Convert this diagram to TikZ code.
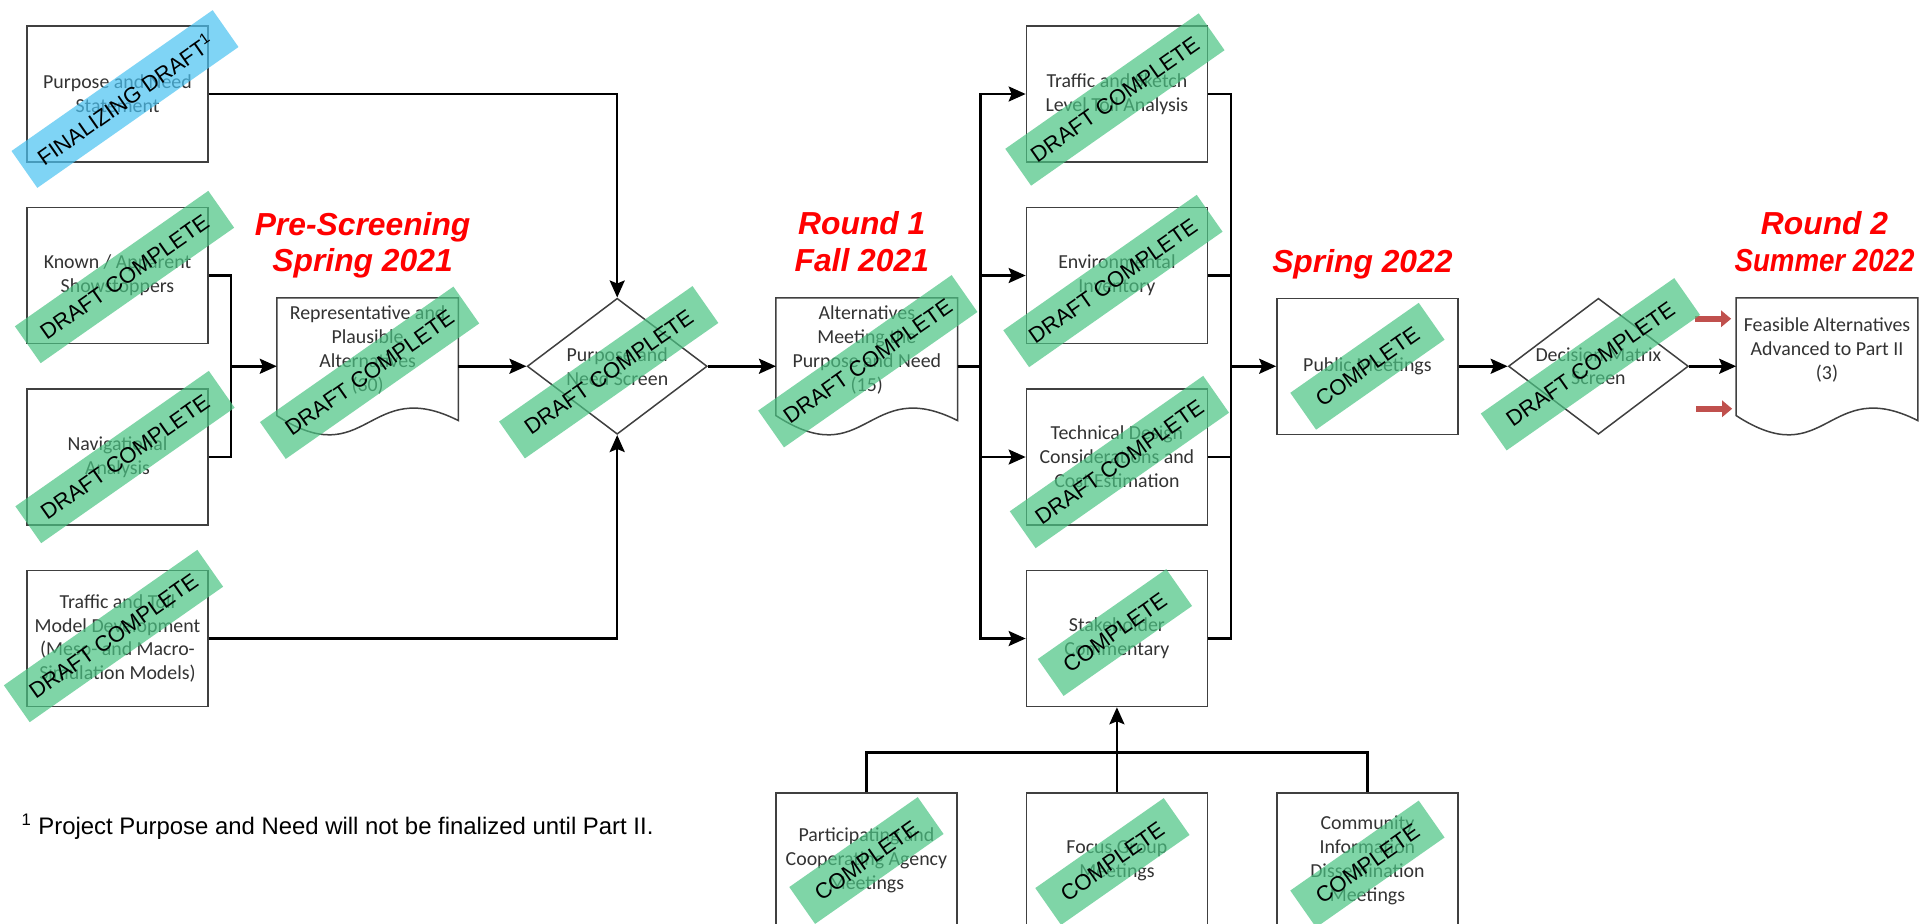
\documentclass[tikz,border=0pt]{standalone}
\usepackage{fontspec}
\usepackage{xcolor}
\usepackage{tikz}
\usetikzlibrary{shapes.geometric, arrows.meta, positioning, calc}

\setmainfont{Carlito}
\newfontfamily\arialfont{Liberation Sans}

\definecolor{stampgreen}{RGB}{74,196,131}
\definecolor{stampblue}{RGB}{74,194,241}
\definecolor{pointerred}{RGB}{192,80,77}

% wavy document outline round a (borderless) node
\newcommand{\docoutline}[1]{%
  \draw[docline] (#1.north west) -- (#1.north east) -- ($(#1.south east)+(0,0.28)$)
    .. controls ($(#1.south)+(0,1.2)$) and ($(#1.south)+(0,-0.8)$) .. ($(#1.south west)+(0,0.38)$) -- cycle;}

\begin{document}
\begin{tikzpicture}[
  node distance=0.88cm and 1.36cm,
  boxfont/.style={font=\fontsize{11.3}{13.6}\selectfont, text=black!80},
  stepbox/.style={rectangle, draw=black!75, line width=0.03cm, minimum width=3.62cm, minimum height=2.72cm, text centered, align=center, boxfont},
  docbox/.style={rectangle, minimum width=3.62cm, minimum height=2.72cm, text centered, align=center, boxfont},
  screen/.style={diamond, aspect=1.32, draw=black!75, line width=0.03cm, minimum width=3.6cm, minimum height=2.72cm, inner sep=-0.1cm, align=center, boxfont},
  docline/.style={draw=black!75, line width=0.03cm},
  heading/.style={font=\arialfont\bfseries\itshape\fontsize{18.1}{21}\selectfont, text=red, align=center, inner sep=0pt, xshift=-0.1cm},
  stamp/.style={rectangle, fill=stampgreen, fill opacity=0.7, text opacity=1, rotate=35, minimum height=0.9cm, inner xsep=0.36cm, font=\arialfont\fontsize{12.5}{14}\selectfont},
  line/.style={line width=0.05cm},
  arrow/.style={line width=0.05cm, -{Stealth[length=0.34cm, width=0.3cm, inset=0.06cm]}},
  pointer/.style={line width=0.13cm, draw=pointerred, -{Triangle[length=0.2cm, width=0.32cm]}}
]
\path[use as bounding box, fill=white] (-2.35,1.88) rectangle (36.05,-16.58);

% left column
\node (pns) [stepbox] {Purpose and Need\\Statement};
\node (known) [stepbox, below=of pns] {Known / Apparent\\Showstoppers};
\node (nav) [stepbox, below=of known] {Navigational\\Analysis};
\node (tdm) [stepbox, below=of nav] {Traffic and Toll\\Model Development\\(Meso- and Macro-\\Simulation Models)};
\coordinate (join) at ($(known.east)!0.5!(nav.east)+(0.44,0)$);

% screening chain
\node (rep) [docbox, right=0.92cm of join] {Representative and\\Plausible\\Alternatives\\(30)\\[0.22cm]};
\node (pnscreen) [screen, right=of rep] {Purpose and\\Need Screen};
\node (alts) [docbox, right=of pnscreen] {Alternatives\\Meeting the\\Purpose and Need\\(15)\\[0.22cm]};
\coordinate (bus1) at ($(alts.east)+(0.46,0)$);

% round 1 column
\node (env) [stepbox, anchor=west] at ($(alts.east |- known.east)+(1.36,0)$) {Environmental\\Inventory};
\node (traffic) [stepbox, above=of env] {Traffic and Sketch\\Level Toll Analysis};
\node (tech) [stepbox, below=of env] {Technical Design\\Considerations and\\Cost Estimation};
\node (stake) [stepbox, below=of tech] {Stakeholder\\Commentary};
\node (focus) [stepbox, below=1.7cm of stake, minimum height=2.7cm] {Focus Group\\Meetings};
\node (part) [stepbox, left=of focus, minimum height=2.7cm] {Participating and\\Cooperating Agency\\Meetings};
\node (community) [stepbox, right=of focus, minimum height=2.7cm] {Community\\Information\\Dissemination\\Meetings};
\coordinate (bus2) at ($(env.east)!0.5!(tech.east)+(0.46,0)$);
\coordinate (fan) at ($(focus.north)!0.47!(stake.south)$);

% round 2
\node (public) [stepbox, right=0.9cm of bus2] {Public Meetings};
\node (dms) [screen, right=0.98cm of public] {Decision Matrix\\Screen};
\node (feasible) [docbox, right=0.94cm of dms] {Feasible Alternatives\\Advanced to Part II\\(3)\\[0.22cm]};

\docoutline{rep}
\docoutline{alts}
\docoutline{feasible}

% phase headings
\node (prescreen) [heading, above=0.38cm of rep] {Pre-Screening\\Spring 2021};
\node (round1) [heading, above=0.52cm of alts] {Round 1\\Fall 2021};
\node (spring22) [heading, above=0.37cm of public] {Spring 2022};
\node (round2) [heading, above=0.51cm of feasible, xshift=0.05cm] {Round 2\\\scalebox{0.87}[1]{Summer 2022}};

\node (note) [below=2.13cm of tdm.south west, anchor=north west, xshift=-0.1cm, inner sep=0pt, font=\arialfont\fontsize{13.6}{16}\selectfont] {\textsuperscript{1} Project Purpose and Need will not be finalized until Part II.};

% connectors
\draw [arrow] (pns.east) -| (pnscreen.north);
\draw [line] (known.east) -| (join) |- (nav.east);
\draw [arrow] (join) -- (rep.west);
\draw [arrow] (tdm.east) -| (pnscreen.south);
\draw [arrow] (rep) -- (pnscreen);
\draw [arrow] (pnscreen) -- (alts);
\draw [line] (alts.east) -- (bus1);
\draw [arrow] (bus1) |- (traffic.west);
\draw [arrow] (bus1) |- (env.west);
\draw [arrow] (bus1) |- (tech.west);
\draw [arrow] (bus1) |- (stake.west);
\draw [line] (traffic.east) -| (bus2);
\draw [line] (stake.east) -| (bus2);
\draw [line] (env.east) -- (env.east -| bus2);
\draw [line] (tech.east) -- (tech.east -| bus2);
\draw [arrow] (bus2) -- (public);
\draw [arrow] (public) -- (dms);
\draw [arrow] (dms) -- (feasible);
\draw [line] (part.north) |- (fan) -| (community.north);
\draw [arrow] (focus.north) -- (stake.south);
\draw [pointer] ($(feasible.west)+(-0.82,0.95)$) -- ($(feasible.west)+(-0.1,0.95)$);
\draw [pointer] ($(feasible.west)+(-0.8,-0.85)$) -- ($(feasible.west)+(-0.08,-0.85)$);

% status stamps
\node (pnsstamp) [stamp, fill=stampblue] at ($(pns)+(0.15,-0.1)$) {FINALIZING DRAFT\textsuperscript{1}};
\node (knownstamp) [stamp] at ($(known)+(0.14,-0.03)$) {DRAFT COMPLETE};
\node (navstamp) [stamp] at ($(nav)+(0.15,0)$) {DRAFT COMPLETE};
\node (tdmstamp) [stamp] at ($(tdm)+(-0.08,0.05)$) {DRAFT COMPLETE};
\node (repstamp) [stamp] at ($(rep)+(0.04,-0.13)$) {DRAFT COMPLETE};
\node (pnscreenstamp) [stamp] at ($(pnscreen)+(-0.17,-0.12)$) {DRAFT COMPLETE};
\node (altsstamp) [stamp] at ($(alts)+(0.02,0.1)$) {DRAFT COMPLETE};
\node (trafficstamp) [stamp] at ($(traffic)+(-0.04,-0.11)$) {DRAFT COMPLETE};
\node (envstamp) [stamp] at ($(env)+(-0.08,-0.11)$) {DRAFT COMPLETE};
\node (techstamp) [stamp] at ($(tech)+(0.05,-0.1)$) {DRAFT COMPLETE};
\node (stakestamp) [stamp] at ($(stake)+(-0.04,0.12)$) {COMPLETE};
\node (partstamp) [stamp] at (part) {COMPLETE};
\node (focusstamp) [stamp] at ($(focus)+(-0.09,-0.02)$) {COMPLETE};
\node (communitystamp) [stamp] at ($(community)+(0,-0.07)$) {COMPLETE};
\node (publicstamp) [stamp] at (public) {COMPLETE};
\node (dmsstamp) [stamp] at ($(dms)+(-0.16,0.04)$) {DRAFT COMPLETE};
\end{tikzpicture}
\end{document}
